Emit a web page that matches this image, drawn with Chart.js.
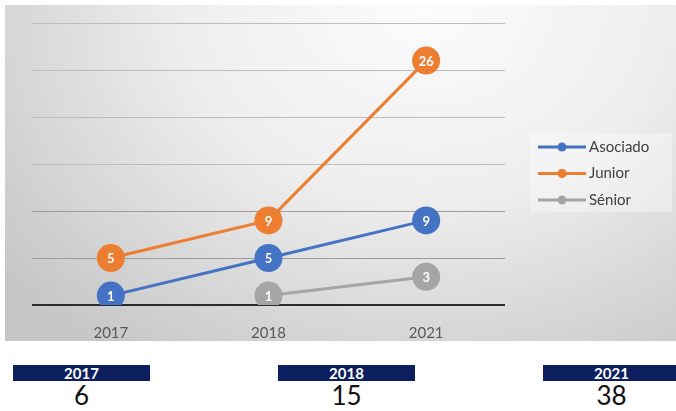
<!DOCTYPE html>
<html>
<head>
<meta charset="utf-8">
<script src="https://cdn.jsdelivr.net/npm/chart.js@4.4.1/dist/chart.umd.min.js"></script>
<style>
  body{ margin:0; width:676px; height:411px; background:#fff; position:relative; overflow:hidden; font-family:Lato, "Open Sans", sans-serif; }
  #panel{ position:absolute; left:5px; top:5px; width:671px; height:336px;
    background: radial-gradient(ellipse 540px 430px at 420px 0px, #fcfcfc 0%, #eeeeee 45%, #d4d4d4 80%, #c6c6c6 100%); }
  #panel canvas{ position:absolute; left:0; top:0; }
  .tot{ position:absolute; top:365px; width:137px; }
  .tot .hd{ height:16px; background:#0c1f5e; color:#fff; font-weight:bold; font-size:15px; line-height:16px; text-align:center; }
  .tot .val{ color:#111; font-size:26px; line-height:28px; text-align:center; }
</style>
</head>
<body>
<div id="panel"><canvas id="chart" width="671" height="336"></canvas></div>
<div id="totals"></div>
<script>
const years = ['2017','2018','2021'];
const asociado = [1, 5, 9];
const junior = [5, 9, 26];
const senior = [null, 1, 3];
const totals = [6, 15, 38];
const totalLeft = [13, 278, 543];

const colors = { asociado:'#4472C4', junior:'#ED7D31', senior:'#A5A5A5' };

function el(sel){ return document.querySelector(sel); }

// totals row under chart
el('#totals').innerHTML = years.map((y,i)=>`
  <div class="tot" style="left:${totalLeft[i]}px"><div class="hd">${y}</div><div class="val">${totals[i]}</div></div>`).join('');

const pointLabels = {
  id:'pointLabels',
  afterDatasetsDraw(chart){
    const ctx = chart.ctx;
    ctx.save();
    ctx.font = 'bold 13px Lato, "Open Sans", sans-serif';
    ctx.fillStyle = '#fff';
    ctx.textAlign = 'center';
    ctx.textBaseline = 'middle';
    chart.data.datasets.forEach((ds,i)=>{
      chart.getDatasetMeta(i).data.forEach((pt,j)=>{
        if (ds.data[j]==null) return;
        ctx.fillText(String(ds.data[j]), pt.x, pt.y+1);
      });
    });
    ctx.restore();
  }
};

const sideLegend = {
  id:'sideLegend',
  afterDraw(chart){
    const ctx = chart.ctx;
    const x0 = 525, y0 = 128, w = 142, h = 79;
    ctx.save();
    ctx.fillStyle = 'rgba(255,255,255,0.35)';
    ctx.fillRect(x0, y0, w, h);
    ctx.font = '15px Lato, "Open Sans", sans-serif';
    ctx.textBaseline = 'middle';
    chart.data.datasets.forEach((ds,i)=>{
      const y = 142 + i*26.5;
      ctx.strokeStyle = ds.borderColor; ctx.lineWidth = 3;
      ctx.beginPath(); ctx.moveTo(533, y); ctx.lineTo(581, y); ctx.stroke();
      ctx.fillStyle = ds.borderColor;
      ctx.beginPath(); ctx.arc(557, y, 4.5, 0, Math.PI*2); ctx.fill();
      ctx.fillStyle = '#404040';
      ctx.fillText(ds.label, 584, y);
    });
    ctx.restore();
  }
};

function series(label, data, c){
  return { label, data, borderColor:c, backgroundColor:c, borderWidth:3,
    pointRadius:14, pointHoverRadius:14, pointBorderWidth:0, spanGaps:false, tension:0 };
}

new Chart(el('#chart').getContext('2d'), {
  type:'line',
  data:{ labels: years, datasets:[
    series('Asociado', asociado, colors.asociado),
    series('Junior', junior, colors.junior),
    series('Sénior', senior, colors.senior)
  ]},
  options:{
    responsive:false, animation:false,
    layout:{ padding:{ left:27, top:18, right:171, bottom:0 } },
    plugins:{ legend:{ display:false }, tooltip:{ enabled:false } },
    scales:{
      x:{ offset:true, grid:{ display:false }, border:{ display:false },
          ticks:{ color:'#595959', font:{ size:15, family:'Lato, "Open Sans", sans-serif' }, padding:11 },
          afterFit: s => { s.height = 36; } },
      y:{ min:0, max:30, ticks:{ display:false, stepSize:5 }, border:{ display:false },
          grid:{ drawTicks:false, color: c => c.tick.value===0 ? '#2b2b2b' : (c.tick.value<=10 ? '#9c9c9c' : '#bdbdbd'),
                 lineWidth: c => c.tick.value===0 ? 2 : 1 },
          afterFit: s => { s.width = 0; } }
    }
  },
  plugins:[pointLabels, sideLegend]
});
</script>
</body>
</html>
